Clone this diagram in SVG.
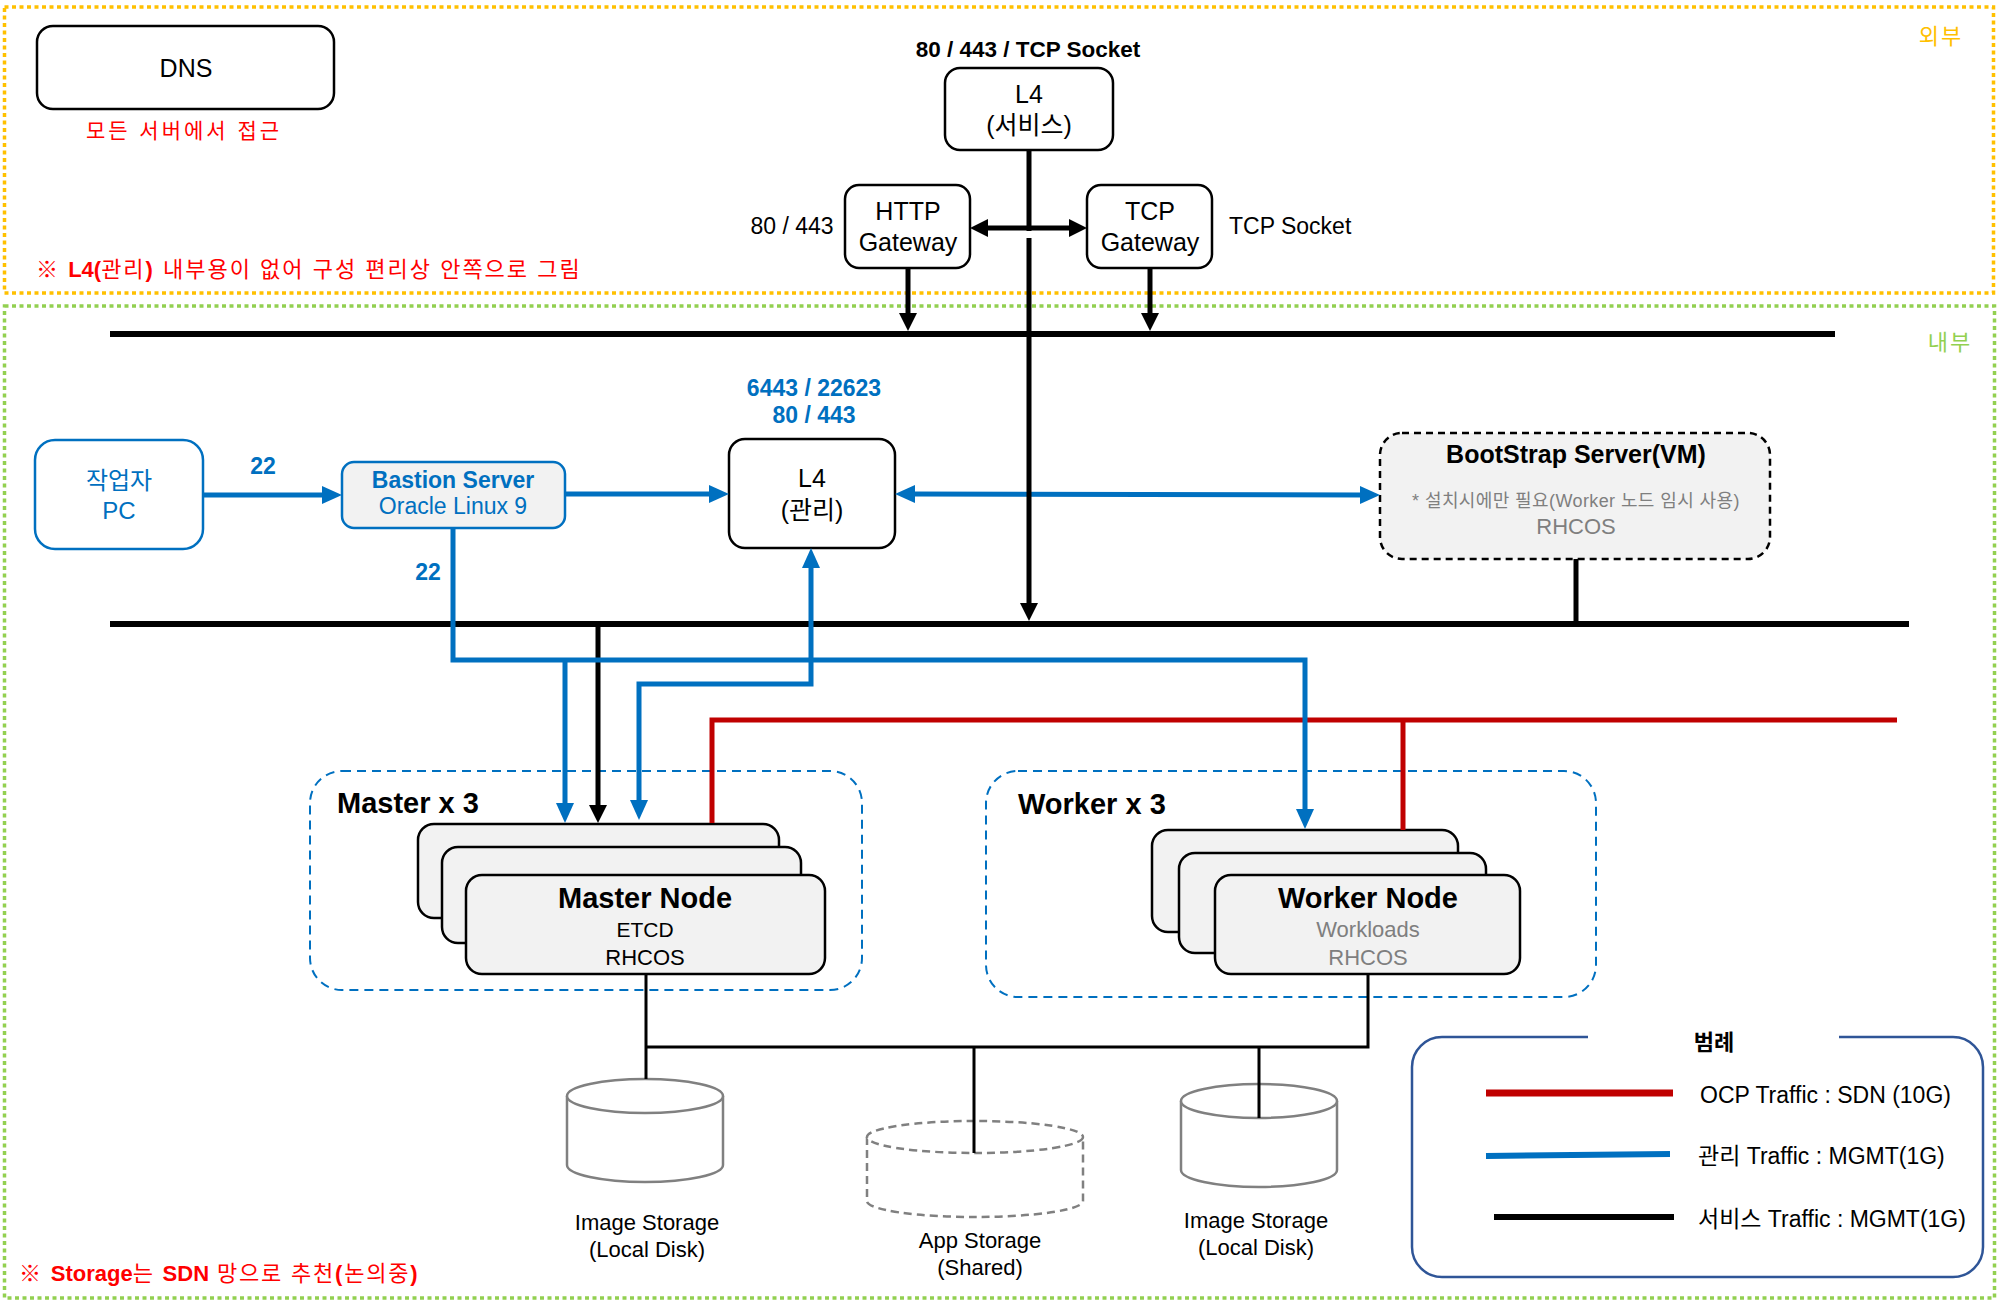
<svg xmlns="http://www.w3.org/2000/svg" width="2000" height="1303" viewBox="0 0 2000 1303">
<style>
text{font-family:'Liberation Sans','Noto Sans CJK KR',sans-serif;fill:#000}
.c{text-anchor:middle}
.b{font-weight:bold}
.blue{fill:#0070C0}
.red{fill:#FF0000}
.grey{fill:#7F7F7F}
.box{fill:#fff;stroke:#000;stroke-width:2.5}
.card{fill:#F2F2F2;stroke:#000;stroke-width:2.5}
.bbox{stroke:#0070C0;stroke-width:2.5}
.grp{fill:none;stroke:#0070C0;stroke-width:2;stroke-dasharray:9 6}
.cyl{fill:#fff;stroke:#808080;stroke-width:2.5}
.k{fill:none;stroke:#000;stroke-width:5}
.bus{fill:none;stroke:#000;stroke-width:6}
.bl{fill:none;stroke:#0070C0;stroke-width:5}
.rd{fill:none;stroke:#C00000;stroke-width:5}
.thin{fill:none;stroke:#000;stroke-width:3}
</style>
<defs>
<marker id="ak" markerUnits="userSpaceOnUse" markerWidth="18" markerHeight="18" refX="2" refY="9" orient="auto-start-reverse" viewBox="0 0 18 18"><path d="M0,0 L18,9 L0,18 z" fill="#000"/></marker>
<marker id="ab" markerUnits="userSpaceOnUse" markerWidth="20" markerHeight="18" refX="2" refY="9" orient="auto-start-reverse" viewBox="0 0 20 18"><path d="M0,0 L20,9 L0,18 z" fill="#0070C0"/></marker>
</defs>
<rect width="2000" height="1303" fill="#fff"/>

<g id="zone-external">
<rect x="4.5" y="7" width="1989" height="286" fill="none" stroke="#FFC000" stroke-width="3.5" stroke-dasharray="4 3.5"/>
<text x="1941" y="44" font-size="22" class="c" style="fill:#FFC000" letter-spacing="2">외부</text>
</g>
<g id="zone-internal">
<rect x="4.5" y="306" width="1990" height="992" fill="none" stroke="#92D050" stroke-width="3.5" stroke-dasharray="4 3.5"/>
<text x="1950" y="350" font-size="22" class="c" style="fill:#92D050" letter-spacing="2">내부</text>
</g>

<g id="notes">
<text x="36" y="277" font-size="22" class="red" letter-spacing="2">※ <tspan class="b" letter-spacing="0">L4(</tspan>관리<tspan class="b">)</tspan> 내부용이 없어 구성 편리상 안쪽으로 그림</text>
<text x="19" y="1281" font-size="22" class="red" letter-spacing="1.8">※ <tspan class="b" letter-spacing="0">Storage</tspan>는 <tspan class="b" letter-spacing="0">SDN</tspan> 망으로 추천<tspan class="b">(</tspan>논의중<tspan class="b">)</tspan></text>
</g>

<g id="dns">
<rect x="37" y="26" width="297" height="83" rx="16" class="box"/>
<text x="186" y="77" font-size="25" class="c">DNS</text>
<text x="184" y="138" font-size="21" class="c red" letter-spacing="3">모든 서버에서 접근</text>
</g>

<g id="l4-service">
<text x="1028" y="57" font-size="22.5" class="c b">80 / 443 / TCP Socket</text>
<rect x="945" y="68" width="168" height="82" rx="15" class="box"/>
<text x="1029" y="103" font-size="25" class="c">L4</text>
<text x="1029" y="134" font-size="25" class="c">(서비스)</text>
</g>

<g id="http-gateway">
<text x="792" y="234" font-size="23" class="c">80 / 443</text>
<rect x="845" y="185" width="125" height="83" rx="14" class="box"/>
<text x="908" y="220" font-size="25" class="c">HTTP</text>
<text x="908" y="251" font-size="25" class="c">Gateway</text>
</g>

<g id="tcp-gateway">
<rect x="1087" y="185" width="125" height="83" rx="14" class="box"/>
<text x="1150" y="220" font-size="25" class="c">TCP</text>
<text x="1150" y="251" font-size="25" class="c">Gateway</text>
<text x="1229" y="234" font-size="23">TCP Socket</text>
</g>

<g id="worker-pc">
<rect x="35" y="440" width="168" height="109" rx="20" class="bbox" fill="#fff"/>
<text x="119" y="489" font-size="24" class="c blue">작업자</text>
<text x="119" y="519" font-size="24" class="c blue">PC</text>
</g>

<g id="bastion">
<rect x="342" y="462" width="223" height="66" rx="12" class="bbox" fill="#F2F2F2"/>
<text x="453" y="488" font-size="23" class="c b blue">Bastion Server</text>
<text x="453" y="514" font-size="23" class="c blue">Oracle Linux 9</text>
</g>

<g id="l4-mgmt">
<text x="814" y="396" font-size="23" class="c b blue">6443 / 22623</text>
<text x="814" y="423" font-size="23" class="c b blue">80 / 443</text>
<rect x="729" y="439" width="166" height="109" rx="16" class="box"/>
<text x="812" y="487" font-size="25" class="c">L4</text>
<text x="812" y="519" font-size="25" class="c">(관리)</text>
</g>

<g id="bootstrap">
<rect x="1380" y="433" width="390" height="126" rx="22" fill="#F2F2F2" stroke="#000" stroke-width="2.5" stroke-dasharray="7 5"/>
<text x="1576" y="463" font-size="25" class="c b">BootStrap Server(VM)</text>
<text x="1576" y="507" font-size="18" class="c grey" letter-spacing="0.4">* 설치시에만 필요(Worker 노드 임시 사용)</text>
<text x="1576" y="534" font-size="22" class="c grey">RHCOS</text>
</g>

<g id="master-group">
<rect x="310" y="771" width="552" height="219" rx="32" class="grp"/>
<text x="337" y="813" font-size="29" class="b">Master x 3</text>
<rect x="418" y="824" width="361" height="94" rx="16" class="card"/>
<rect x="442" y="847" width="359" height="96" rx="16" class="card"/>
<rect x="466" y="875" width="359" height="99" rx="16" class="card"/>
<text x="645" y="908" font-size="29" class="c b">Master Node</text>
<text x="645" y="937" font-size="21" class="c">ETCD</text>
<text x="645" y="965" font-size="22" class="c">RHCOS</text>
</g>

<g id="worker-group">
<rect x="986" y="771" width="610" height="226" rx="32" class="grp"/>
<text x="1018" y="814" font-size="29" class="b">Worker x 3</text>
<rect x="1152" y="830" width="306" height="102" rx="16" class="card"/>
<rect x="1179" y="853" width="307" height="100" rx="16" class="card"/>
<rect x="1215" y="875" width="305" height="99" rx="16" class="card"/>
<text x="1368" y="908" font-size="29" class="c b">Worker Node</text>
<text x="1368" y="937" font-size="22" class="c grey">Workloads</text>
<text x="1368" y="965" font-size="22" class="c grey">RHCOS</text>
</g>

<g id="image-storage-1">
<path d="M567,1096 V1165 A78,17 0 0 0 723,1165 V1096" class="cyl"/>
<ellipse cx="645" cy="1096" rx="78" ry="17" class="cyl"/>
<text x="647" y="1230" font-size="22" class="c">Image  Storage</text>
<text x="647" y="1257" font-size="22" class="c">(Local Disk)</text>
</g>

<g id="app-storage">
<path d="M867,1137 V1201 A108,16 0 0 0 1083,1201 V1137" fill="#fff" stroke="#808080" stroke-width="2.5" stroke-dasharray="8 5"/>
<ellipse cx="975" cy="1137" rx="108" ry="16" fill="#fff" stroke="#808080" stroke-width="2.5" stroke-dasharray="8 5"/>
<text x="980" y="1248" font-size="22" class="c">App  Storage</text>
<text x="980" y="1275" font-size="22" class="c">(Shared)</text>
</g>

<g id="image-storage-2">
<path d="M1181,1101 V1170 A78,17 0 0 0 1337,1170 V1101" class="cyl"/>
<ellipse cx="1259" cy="1101" rx="78" ry="17" class="cyl"/>
<text x="1256" y="1228" font-size="22" class="c">Image  Storage</text>
<text x="1256" y="1255" font-size="22" class="c">(Local Disk)</text>
</g>

<g id="legend">
<path d="M1588,1037 H1442 A30,30 0 0 0 1412,1067 V1247 A30,30 0 0 0 1442,1277 H1953 A30,30 0 0 0 1983,1247 V1067 A30,30 0 0 0 1953,1037 H1839" fill="none" stroke="#2F5597" stroke-width="2.5"/>
<text x="1714" y="1050" font-size="22" class="c b">범례</text>
<line x1="1486" y1="1093" x2="1673" y2="1093" stroke="#C00000" stroke-width="7"/>
<text x="1700" y="1103" font-size="23">OCP Traffic : SDN (10G)</text>
<line x1="1486" y1="1156" x2="1670" y2="1154" stroke="#0070C0" stroke-width="6"/>
<text x="1698" y="1164" font-size="23">관리 Traffic : MGMT(1G)</text>
<line x1="1494" y1="1217" x2="1674" y2="1217" stroke="#000" stroke-width="6"/>
<text x="1698" y="1227" font-size="23">서비스 Traffic : MGMT(1G)</text>
</g>

<g id="connectors">
<line x1="110" y1="334" x2="1835" y2="334" class="bus"/>
<line x1="110" y1="624" x2="1909" y2="624" class="bus"/>
<line x1="1029" y1="150" x2="1029" y2="231" class="k"/>
<line x1="986" y1="228" x2="1071" y2="228" class="k" marker-start="url(#ak)" marker-end="url(#ak)"/>
<line x1="908" y1="268" x2="908" y2="315" class="k" marker-end="url(#ak)"/>
<line x1="1150" y1="268" x2="1150" y2="315" class="k" marker-end="url(#ak)"/>
<line x1="1576" y1="559" x2="1576" y2="624" class="k"/>
<line x1="598" y1="624" x2="598" y2="807" class="k" marker-end="url(#ak)"/>
<path d="M712,823 V720 H1897" class="rd"/>
<line x1="1403" y1="720" x2="1403" y2="830" class="rd"/>
<line x1="203" y1="495" x2="324" y2="495" class="bl" marker-end="url(#ab)"/>
<line x1="565" y1="494" x2="711" y2="494" class="bl" marker-end="url(#ab)"/>
<line x1="913" y1="494" x2="1362" y2="495" class="bl" marker-start="url(#ab)" marker-end="url(#ab)"/>
<path d="M453,528 V660 H1305 V811" class="bl" marker-end="url(#ab)"/>
<line x1="565" y1="660" x2="565" y2="805" class="bl" marker-end="url(#ab)"/>
<path d="M639,802 V684 H811 V566" class="bl" marker-start="url(#ab)" marker-end="url(#ab)"/>
<line x1="1029" y1="238" x2="1029" y2="605" class="k" marker-end="url(#ak)"/>
<path d="M646,974 V1079 M646,1047 H1368 V974 M974,1047 V1153 M1259,1047 V1118" class="thin"/>
<text x="263" y="474" font-size="23" class="c b blue">22</text>
<text x="428" y="580" font-size="23" class="c b blue">22</text>
</g>
</svg>
